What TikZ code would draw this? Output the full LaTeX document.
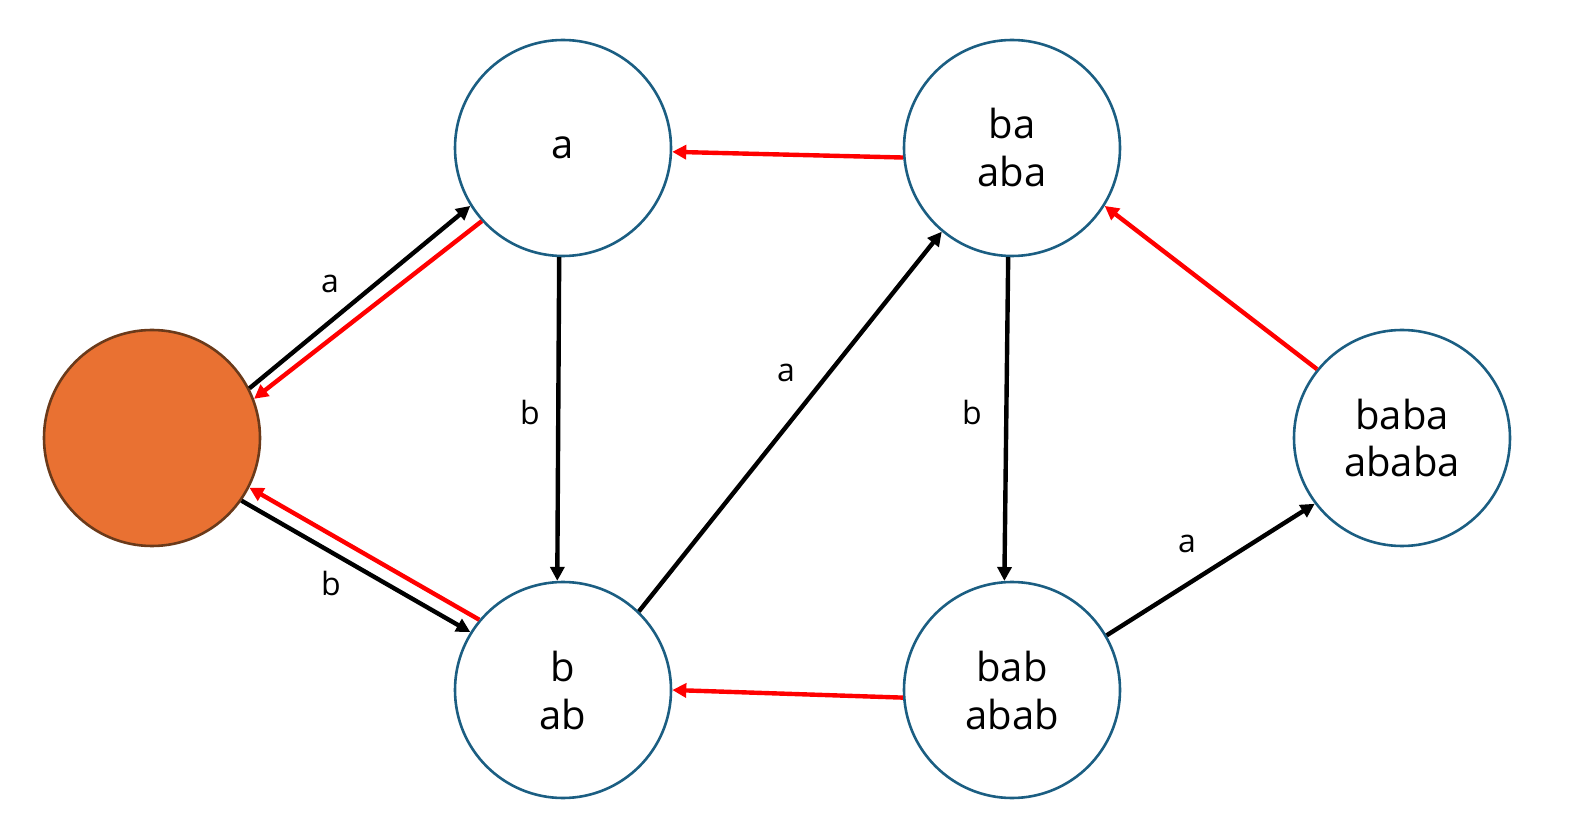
\documentclass[tikz,border=0pt]{standalone}
\usepackage{fontspec}
\setmainfont{Open Sans}
\usetikzlibrary{arrows.meta}
\definecolor{nodeblue}{HTML}{1B5E82}
\definecolor{rootfill}{HTML}{E97132}
\definecolor{rootdraw}{HTML}{6B3A1A}
\definecolor{linkred}{HTML}{FF0000}
\tikzset{
  state/.style={circle,draw=nodeblue,line width=1.3pt,minimum size=108pt,inner sep=0pt,align=center,
    font=\fontsize{20}{24}\selectfont},
  rootstate/.style={state,draw=rootdraw,fill=rootfill},
  trans/.style={line width=2.2pt,black,-{Triangle[length=7pt,width=7pt]}},
  fail/.style={line width=2.2pt,linkred,-{Triangle[length=7pt,width=7pt]}},
  lbl/.style={font=\fontsize{16}{19}\selectfont,inner sep=0pt}
}
\begin{document}
\begin{tikzpicture}[x=0.5pt,y=-0.5pt]
\useasboundingbox (0,0) rectangle (1571,834);
\node[rootstate] (r) at (152,438) {};
\node[state] (a) at (563,148) {a};
\node[state] (b) at (563,690) {b\\ab};
\node[state] (ba) at (1012,148) {ba\\aba};
\node[state] (bab) at (1012,690) {bab\\abab};
\node[state] (baba) at (1402,438) {baba\\ababa};
% black transitions
\draw[trans] (r.27) -- (a.212);
\draw[trans] (r.325) -- (b.148);
\draw[trans] (a.268) -- (b.93);
\draw[trans] (b.46) -- (ba.230);
\draw[trans] (ba.268) -- (bab.94);
\draw[trans] (bab.30) -- (baba.217);
% red failure links
\draw[fail] (a.222) -- (r.21);
\draw[fail] (b.140) -- (r.333);
\draw[fail] (ba.185) -- (a.358);
\draw[fail] (bab.184) -- (b.0);
\draw[fail] (baba.141) -- (ba.328);
% labels
\node[lbl] (la) at (330,284) {a};
\node[lbl] (lb) at (331,584) {b};
\node[lbl] (lab) at (530,413) {b};
\node[lbl] (lbba) at (786,373) {a};
\node[lbl] (lbab) at (972,413) {b};
\node[lbl] (lbaba) at (1187,544) {a};
\end{tikzpicture}
\end{document}
